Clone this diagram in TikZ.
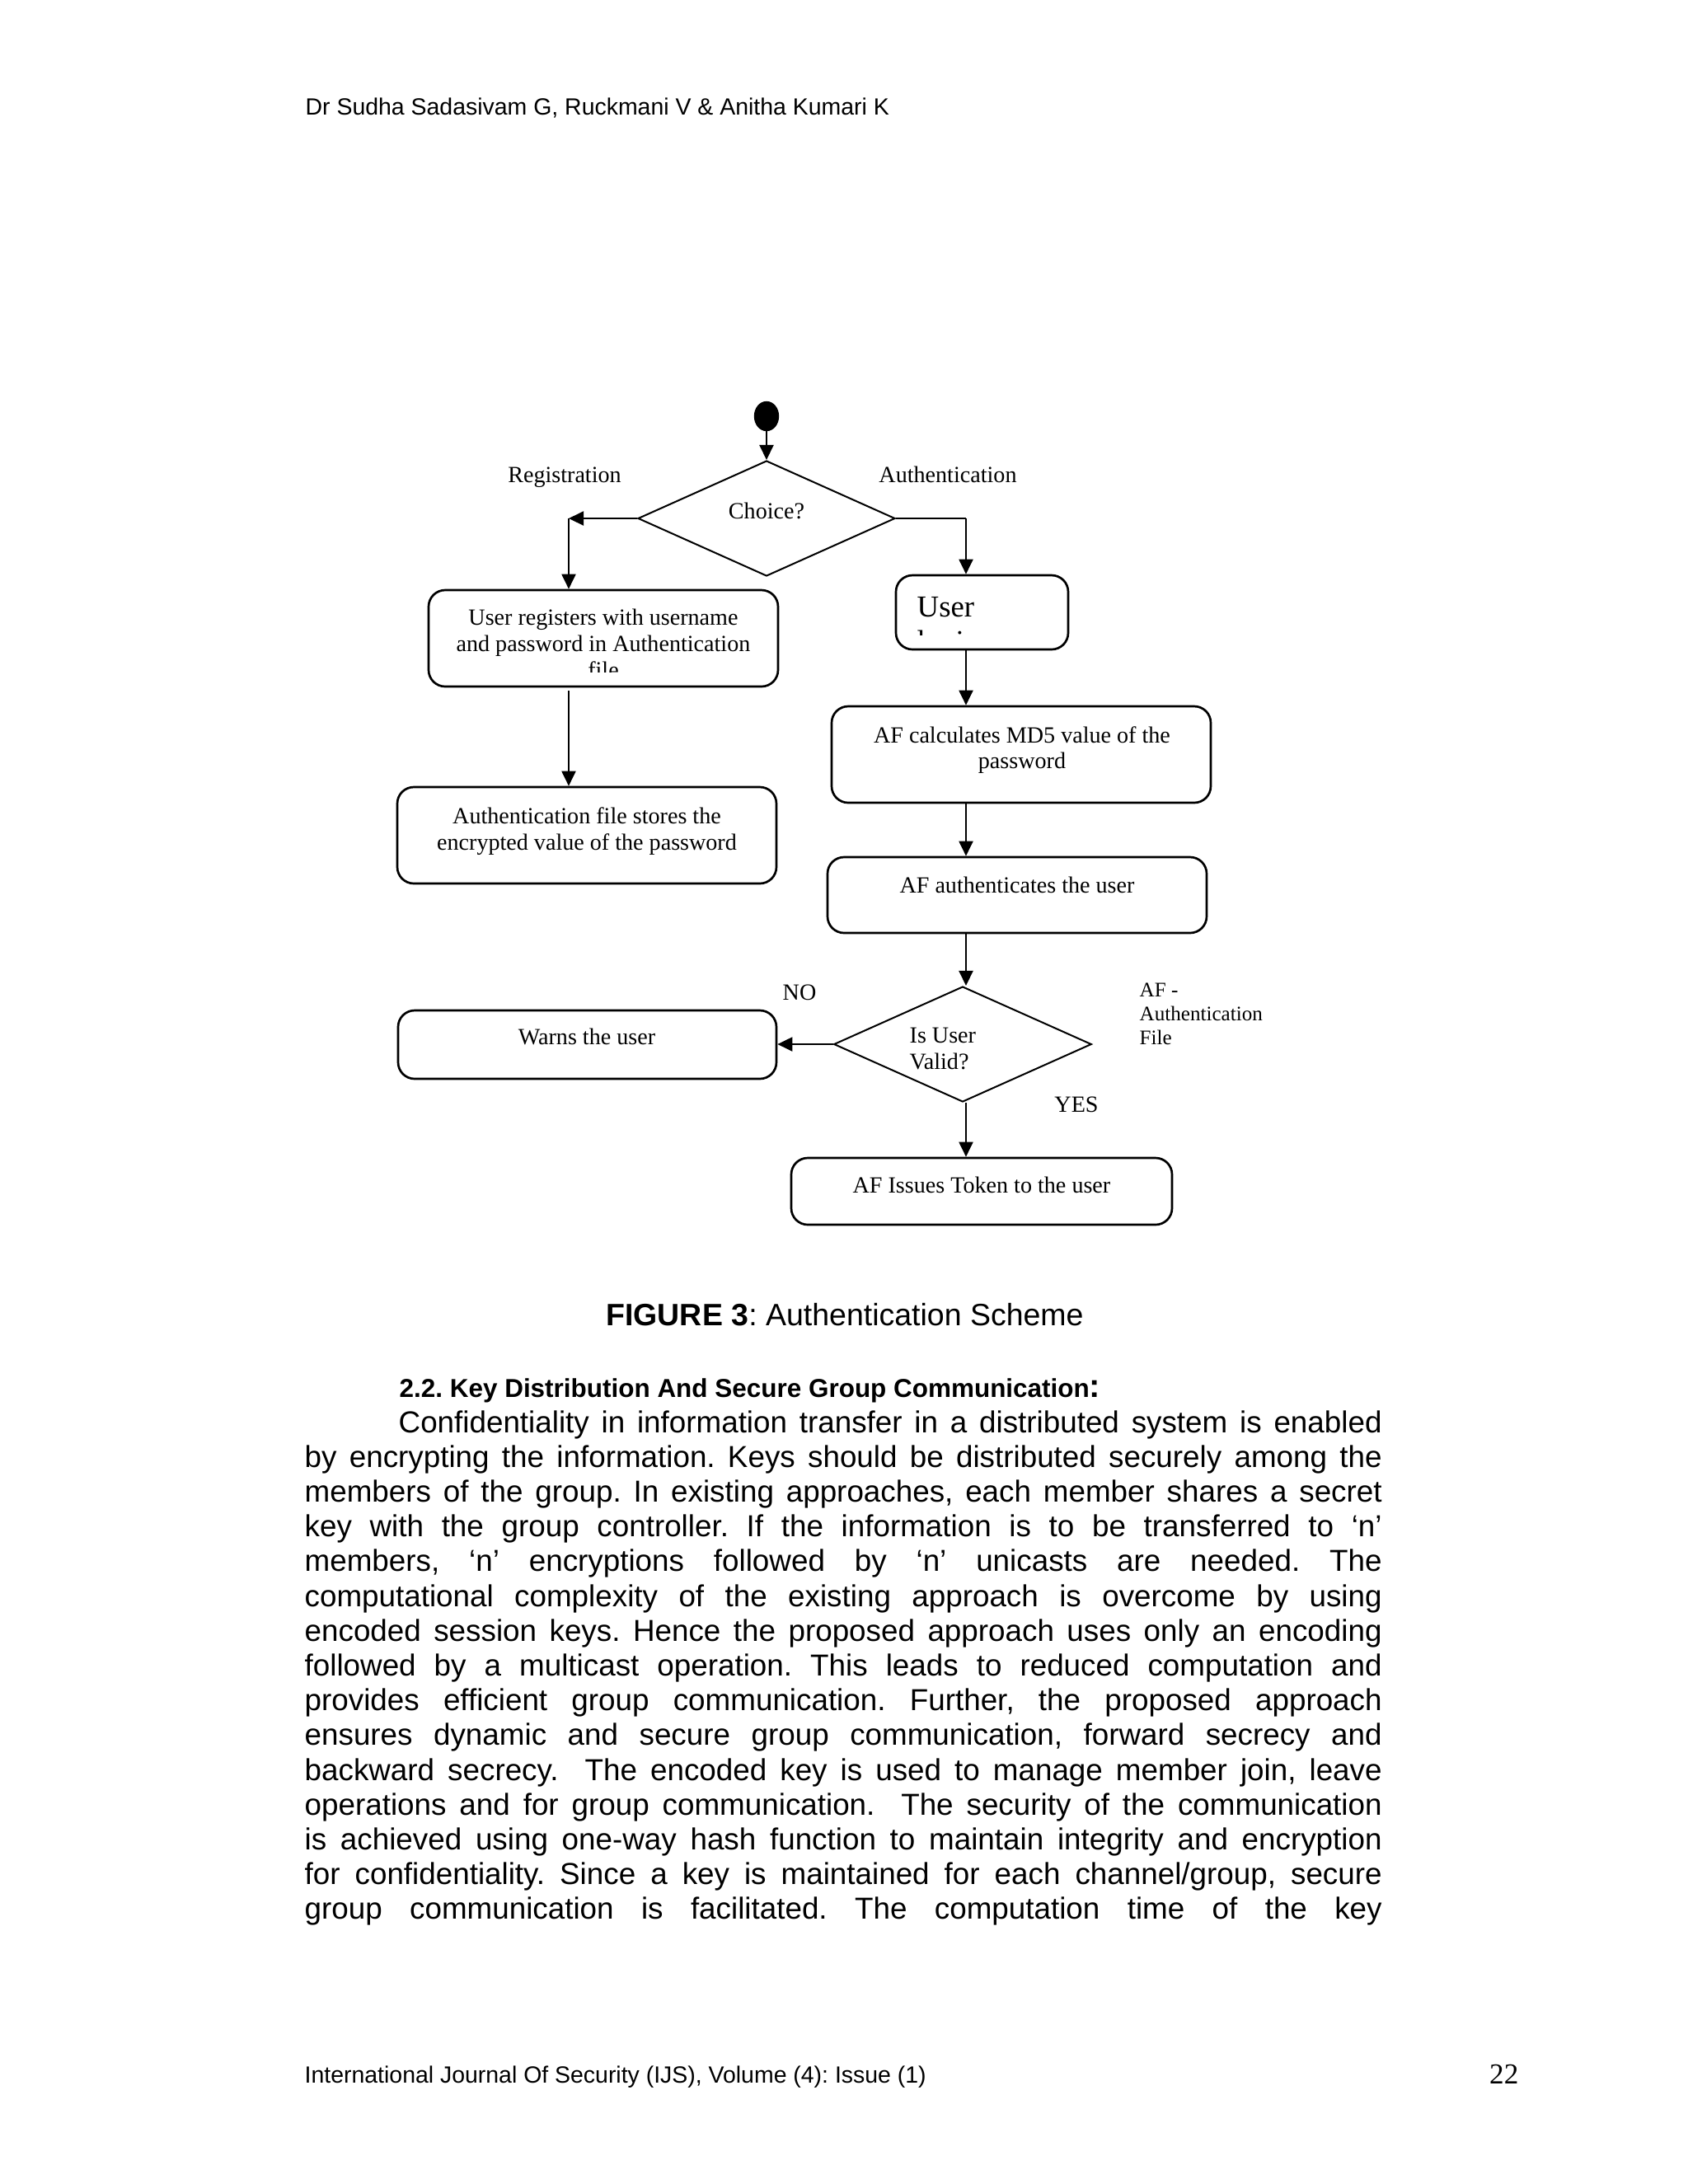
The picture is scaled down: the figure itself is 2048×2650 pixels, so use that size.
\documentclass[tikz,border=0pt]{standalone}
\usepackage{fontspec}
\setmainfont{Liberation Serif}
\newfontfamily\arial{Liberation Sans}
\usetikzlibrary{arrows.meta,shapes.geometric,calc}
\begin{document}
\frenchspacing
\begin{tikzpicture}[x=0.298828pt,y=-0.298828pt,
  lbl/.style={inner sep=0, anchor=base, font=\fontsize{8.4}{9.6}\selectfont},
  lbll/.style={lbl, anchor=base west},
  small/.style={inner sep=0, anchor=base west, font=\fontsize{7.5}{8.6}\selectfont},
  body/.style={inner sep=0, anchor=base west, font=\arial\fontsize{11}{12.65}\selectfont},
  box/.style={draw, rounded corners=6pt, line width=0.8pt, inner sep=0},
  dec/.style={draw, diamond, line width=0.6pt, inner sep=0},
  arr/.style={-{Triangle[length=5.4pt,width=5.1pt]}, line width=0.6pt}]
\useasboundingbox[fill=white] (0,0) rectangle (2048,2650);

% header
\node[inner sep=0, anchor=base west, font=\arial\fontsize{8.5}{10}\selectfont] (hdr) at (370,139) {Dr Sudha Sadasivam G, Ruckmani V \& Anitha Kumari K};

% flowchart shapes
\node[draw, fill=black, ellipse, inner sep=0, minimum width=8.67pt, minimum height=10.46pt] (start) at (930,505) {};
\node[dec, minimum width=93.23pt, minimum height=41.84pt] (choice) at (930,629) {};
\node[lbl] (choicet) at (930,629) {Choice?};
\node[lbl] (regl) at (685,585) {Registration};
\node[lbl] (authl) at (1150,585) {Authentication};

\node[box, minimum width=126.7pt, minimum height=34.96pt] (regbox) at (732,774.5) {};
\node[box, minimum width=62.45pt, minimum height=26.89pt] (userbox) at (1191.5,743) {};
\node[box, minimum width=137.46pt, minimum height=34.96pt] (storebox) at (712,1013.5) {};
\node[box, minimum width=137.46pt, minimum height=34.96pt] (md5box) at (1239,915.5) {};
\node[box, minimum width=137.46pt, minimum height=27.49pt] (authbox) at (1234,1086) {};
\node[box, minimum width=137.16pt, minimum height=24.80pt] (warnbox) at (712.5,1267.5) {};
\node[box, minimum width=138.06pt, minimum height=24.21pt] (tokenbox) at (1191,1445.5) {};
\node[dec, minimum width=93.4pt, minimum height=41.84pt] (valid) at (1168,1267) {};

% box texts
\begin{scope}
\clip (520,716) rectangle (944,815);
\node[lbl] (reg1) at (732,758) {User registers with username};
\node[lbl] (reg2) at (732,790) {and password in Authentication};
\node[lbl] (reg3) at (732,822) {file};
\end{scope}
\begin{scope}
\clip (1087,698) rectangle (1296,770);
\node[inner sep=0, anchor=base west, font=\fontsize{11}{12.65}\selectfont] (user1) at (1112,748) {User};
\node[inner sep=0, anchor=base west, font=\fontsize{11}{12.65}\selectfont] (user2) at (1112,790) {login};
\end{scope}
\node[lbl] (st1) at (712,999) {Authentication file stores the};
\node[lbl] (st2) at (712,1031) {encrypted value of the password};
\node[lbl] (md1) at (1240,901) {AF calculates MD5 value of the};
\node[lbl] (md2) at (1240,932) {password};
\node[lbl] (au1) at (1234,1083) {AF authenticates the user};
\node[lbl] (wa1) at (712,1267) {Warns the user};
\node[lbll] (va1) at (1103,1265) {Is User};
\node[lbll] (va2) at (1103,1297) {Valid?};
\node[lbl] (nol) at (970,1213) {NO};
\node[lbl] (yesl) at (1306,1349) {YES};
\node[small] (af1) at (1382,1209) {AF -};
\node[small] (af2) at (1382,1238) {Authentication};
\node[small] (af3) at (1382,1267) {File};
\node[lbl] (to1) at (1191,1447) {AF Issues Token to the user};

% connectors
\coordinate (cl) at (690,629);
\coordinate (cr) at (1172,629);
\draw[arr] (start.south) -- (choice.north);
\draw[arr] (choice.west) -- (cl);
\draw[arr] (cl) -- (cl |- regbox.north);
\draw[line width=0.6pt] (choice.east) -- (cr);
\draw[arr] (cr) -- (cr |- userbox.north);
\draw[arr] ($(cl |- regbox.south)+(0,4)$) -- (cl |- storebox.north);
\draw[arr] (cr |- userbox.south) -- (cr |- md5box.north);
\draw[arr] (cr |- md5box.south) -- (cr |- authbox.north);
\draw[arr] (cr |- authbox.south) -- (cr |- valid.north);
\draw[arr] (valid.west) -- (warnbox.east |- valid.west);
\draw[arr] (cr |- valid.south) -- (cr |- tokenbox.north);

% caption and heading
\node[inner sep=0, anchor=base, font=\arial\fontsize{11.2}{13}\selectfont] (cap) at (1025,1608) {\textbf{FIGURE 3}: Authentication Scheme};
\node[inner sep=0, anchor=base west, font=\arial\bfseries\fontsize{9.4}{11}\selectfont] (head) at (484,1695) {2.2. Key Distribution And Secure Group Communication{\fontsize{12}{14}\selectfont:}};

% body
\node[body] (b1) at (483,1738) {\makebox[356.5pt][s]{Confidentiality in information transfer in a distributed system is enabled}};
\node[body] (b2) at (369,1780.2) {\makebox[390.6pt][s]{by encrypting the information. Keys should be distributed securely among the}};
\node[body] (b3) at (369,1822.4) {\makebox[390.6pt][s]{members of the group. In existing approaches, each member shares a secret}};
\node[body] (b4) at (369,1864.6) {\makebox[390.6pt][s]{key with the group controller. If the information is to be transferred to ‘n’}};
\node[body] (b5) at (369,1906.8) {\makebox[390.6pt][s]{members, ‘n’ encryptions followed by ‘n’ unicasts are needed. The}};
\node[body] (b6) at (369,1949) {\makebox[390.6pt][s]{computational complexity of the existing approach is overcome by using}};
\node[body] (b7) at (369,1991.2) {\makebox[390.6pt][s]{encoded session keys. Hence the proposed approach uses only an encoding}};
\node[body] (b8) at (369,2033.4) {\makebox[390.6pt][s]{followed by a multicast operation. This leads to reduced computation and}};
\node[body] (b9) at (369,2075.6) {\makebox[390.6pt][s]{provides efficient group communication. Further, the proposed approach}};
\node[body] (b10) at (369,2117.8) {\makebox[390.6pt][s]{ensures dynamic and secure group communication, forward secrecy and}};
\node[body] (b11) at (369,2160) {\makebox[390.6pt][s]{backward secrecy.\ \ The encoded key is used to manage member join, leave}};
\node[body] (b12) at (369,2202.2) {\makebox[390.6pt][s]{operations and for group communication.\ \ The security of the communication}};
\node[body] (b13) at (369,2244.4) {\makebox[390.6pt][s]{is achieved using one-way hash function to maintain integrity and encryption}};
\node[body] (b14) at (369,2286.6) {\makebox[390.6pt][s]{for confidentiality. Since a key is maintained for each channel/group, secure}};
\node[body] (b15) at (369,2328.8) {\makebox[390.6pt][s]{group communication is facilitated. The computation time of the key}};

% footer
\node[inner sep=0, anchor=base west, font=\arial\fontsize{8.5}{10}\selectfont] (ftr) at (369,2527) {International Journal Of Security (IJS), Volume (4): Issue (1)};
\node[inner sep=0, anchor=base east, font=\fontsize{10.5}{12}\selectfont] (pg) at (1843,2528) {22};
\end{tikzpicture}
\end{document}
